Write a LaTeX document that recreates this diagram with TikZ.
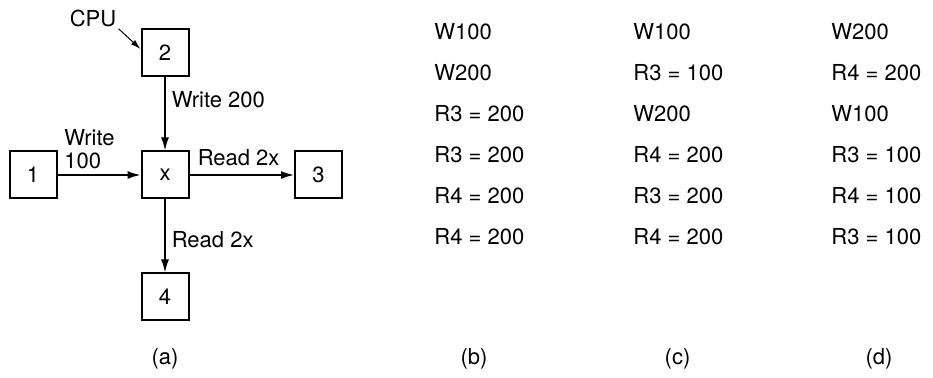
\documentclass[tikz,border=0pt]{standalone}
\usepackage{fontspec}
\setmainfont{TeX Gyre Heros}
\usepackage{tikz}
\usetikzlibrary{arrows.meta,positioning}
\tikzset{
  txt/.style={font=\fontsize{11}{11.5}\selectfont,inner sep=1pt},
  cell/.style={rectangle,draw,line width=1pt,minimum size=23.5pt,
    inner sep=0pt,font=\fontsize{11}{11.5}\selectfont},
  arr/.style={-{Latex[length=6.5pt,width=4pt]},line width=0.8pt},
  seq/.style={txt,anchor=base west},
  sublab/.style={txt}
}

\begin{document}
\begin{tikzpicture}[x=0.5pt,y=-0.5pt]
\useasboundingbox (0,0) rectangle (933,378);
% ---------------- (a) the cell x and its four CPUs ----------------
\node[cell] (x)  at (165,175)   {x};
\node[cell] (n1) at (33,175)    {1};
\node[cell] (n2) at (165,53)    {2};
\node[cell] (n3) at (318.5,175) {3};
\node[cell] (n4) at (165,297)   {4};
\node[txt] (cpu) at (93,18) {CPU};
\draw[-{Latex[length=5pt,width=3pt]},line width=0.5pt]
  (cpu.south east) -- ([yshift=2pt]n2.west);
\draw[arr] (n2) -- node[txt,pos=0.3,right=2pt] {Write 200} (x);
\draw[arr] (n1) -- node[txt,pos=0,anchor=south west,xshift=2pt,yshift=1.5pt,
  align=left] {Write\\100} (x);
\draw[arr] (x) -- node[txt,pos=0.47,above=3pt] {Read 2x} (n3);
\draw[arr] (x) -- node[txt,pos=0.55,right=2pt] {Read 2x} (n4);
\node[sublab] (la) at (165,359) {(a)};
% ---------------- (b) ----------------
\node[seq] (b1) at (432,39.5)  {W100};
\node[seq] (b2) at (432,80.5)  {W200};
\node[seq] (b3) at (432,121.5) {R3 = 200};
\node[seq] (b4) at (432,162.5) {R3 = 200};
\node[seq] (b5) at (432,203.5) {R4 = 200};
\node[seq] (b6) at (432,244.5) {R4 = 200};
\node[sublab] (lb) at (474,359) {(b)};
% ---------------- (c) ----------------
\node[seq] (c1) at (631,39.5)  {W100};
\node[seq] (c2) at (631,80.5)  {R3 = 100};
\node[seq] (c3) at (631,121.5) {W200};
\node[seq] (c4) at (631,162.5) {R4 = 200};
\node[seq] (c5) at (631,203.5) {R3 = 200};
\node[seq] (c6) at (631,244.5) {R4 = 200};
\node[sublab] (lc) at (677.5,359) {(c)};
% ---------------- (d) ----------------
\node[seq] (d1) at (829,39.5)  {W200};
\node[seq] (d2) at (829,80.5)  {R4 = 200};
\node[seq] (d3) at (829,121.5) {W100};
\node[seq] (d4) at (829,162.5) {R3 = 100};
\node[seq] (d5) at (829,203.5) {R4 = 100};
\node[seq] (d6) at (829,244.5) {R3 = 100};
\node[sublab] (ld) at (879,359) {(d)};
\end{tikzpicture}
\end{document}
